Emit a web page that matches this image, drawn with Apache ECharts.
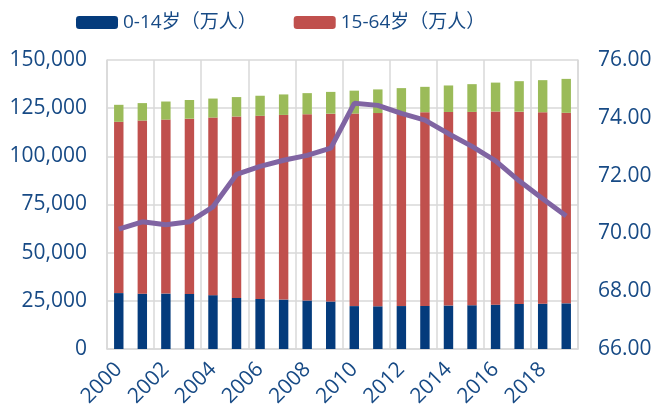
<!DOCTYPE html>
<html>
<head>
<meta charset="utf-8">
<script src="https://cdn.jsdelivr.net/npm/echarts@6/dist/echarts.min.js"></script>
<style>
  html, body { margin: 0; padding: 0; background: #fff; }
  #container { width: 655px; height: 414px; }
</style>
</head>
<body>
<div id="container"></div>
<script>
var years = ['2000', '2001', '2002', '2003', '2004', '2005', '2006', '2007', '2008', '2009',
    '2010', '2011', '2012', '2013', '2014', '2015', '2016', '2017', '2018', '2019'];
// 0-14岁（万人）
var young = [29012, 28716, 28774, 28559, 27947, 26504, 25961, 25660, 25166, 24659,
    22259, 22164, 22287, 22329, 22558, 22715, 23008, 23348, 23523, 23689];
// 15-64岁（万人）
var working = [88910, 89849, 90302, 90976, 92184, 94197, 95068, 95833, 96680, 97484,
    99938, 100283, 100403, 100582, 100469, 100361, 100260, 99829, 99357, 98910];
// 65岁以上（万人）
var elderly = [8821, 9062, 9377, 9692, 9857, 10055, 10419, 10636, 10956, 11307,
    11894, 12288, 12714, 13161, 13755, 14386, 15003, 15831, 16658, 17603];
// 15-64岁占比（%），右轴
var share = [70.15, 70.40, 70.30, 70.40, 70.92, 72.04, 72.32, 72.53, 72.70, 72.95,
    74.50, 74.43, 74.15, 73.92, 73.45, 73.01, 72.51, 71.82, 71.20, 70.60];

var labelColor = '#174a85';
var gridColor = '#d9d9d9';
var font = '"Open Sans", "Noto Sans CJK SC", sans-serif';

var myChart = echarts.init(document.getElementById('container'));

var option = {
    backgroundColor: '#fff',
    animation: false,
    textStyle: { fontFamily: font },
    legend: {
        left: 71,
        top: 8,
        itemWidth: 42,
        itemHeight: 13,
        itemGap: 37,
        data: ['0-14岁（万人）', '15-64岁（万人）'],
        textStyle: { color: labelColor, fontSize: 19, fontFamily: font }
    },
    grid: { left: 107, right: 77, top: 60, bottom: 65 },
    xAxis: {
        type: 'category',
        data: years,
        boundaryGap: true,
        axisLine: { show: true, lineStyle: { color: gridColor, width: 1.5 } },
        axisTick: { show: false, interval: 1 },
        splitLine: { show: true, interval: 1, lineStyle: { color: gridColor, width: 1.5 } },
        axisLabel: {
            interval: 1,
            rotate: 45,
            color: labelColor,
            fontSize: 21,
            fontFamily: font,
            margin: 17
        }
    },
    yAxis: [{
        type: 'value',
        min: 0,
        max: 150000,
        interval: 25000,
        axisLine: { show: true, lineStyle: { color: gridColor, width: 1.5 } },
        axisTick: { show: false },
        splitLine: { lineStyle: { color: gridColor, width: 1.5 } },
        axisLabel: {
            color: labelColor,
            fontSize: 21,
            fontFamily: font,
            margin: 20,
            formatter: function (v) {
                return String(v).replace(/\B(?=(\d{3})+(?!\d))/g, ',');
            }
        }
    }, {
        type: 'value',
        min: 66,
        max: 76,
        interval: 2,
        position: 'right',
        axisLine: { show: true, lineStyle: { color: gridColor, width: 1.5 } },
        axisTick: { show: false },
        splitLine: { show: false },
        axisLabel: {
            color: labelColor,
            fontSize: 21,
            fontFamily: font,
            margin: 20,
            formatter: function (v) { return v.toFixed(2); }
        }
    }],
    series: [{
        name: '0-14岁（万人）',
        type: 'bar',
        stack: 'pop',
        barWidth: '40%',
        itemStyle: { color: '#043b7c' },
        data: young
    }, {
        name: '15-64岁（万人）',
        type: 'bar',
        stack: 'pop',
        barWidth: '40%',
        itemStyle: { color: '#c0504d' },
        data: working
    }, {
        name: '65岁以上（万人）',
        type: 'bar',
        stack: 'pop',
        barWidth: '40%',
        itemStyle: { color: '#9bbb59' },
        data: elderly
    }, {
        name: '15-64岁占比（%）',
        type: 'line',
        yAxisIndex: 1,
        symbol: 'none',
        z: 5,
        lineStyle: { color: '#8064a2', width: 5 },
        itemStyle: { color: '#8064a2' },
        data: share
    }]
};
myChart.setOption(option);
</script>
</body>
</html>
